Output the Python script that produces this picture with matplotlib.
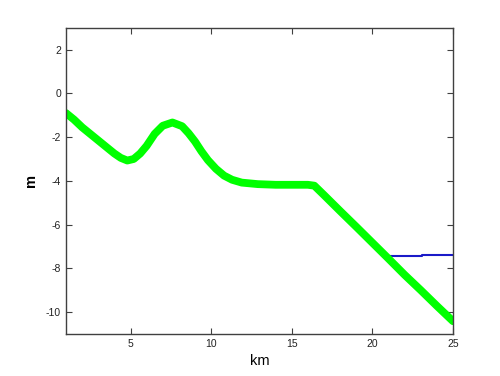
import matplotlib
matplotlib.use('Agg')
import matplotlib.pyplot as plt

plt.rcParams['font.family'] = ['Liberation Sans', 'DejaVu Sans']
plt.rcParams['axes.unicode_minus'] = False

# bed profile (green) and water level (blue)
dist_km = [1, 1.5, 2, 2.5, 3, 3.5, 4, 4.4, 4.8, 5.2, 5.6, 6, 6.5, 7, 7.6, 8.2, 8.6, 9,
           9.4, 9.8, 10.3, 10.8, 11.3, 11.9, 12.9, 14, 15, 16, 16.4, 17, 18, 19, 20,
           21, 22, 23, 24, 25]
bed_m = [-0.9, -1.2, -1.55, -1.85, -2.15, -2.45, -2.75, -2.95, -3.07, -3.0, -2.75,
         -2.4, -1.85, -1.48, -1.33, -1.5, -1.82, -2.2, -2.65, -3.05, -3.45, -3.76,
         -3.95, -4.08, -4.15, -4.18, -4.18, -4.18, -4.22, -4.65, -5.38, -6.1, -6.83,
         -7.56, -8.3, -9.0, -9.72, -10.42]

water_km = [20.8, 23.1, 23.1, 25]
water_m = [-7.42, -7.42, -7.39, -7.39]

fig = plt.figure(figsize=(5, 3.76), dpi=100)
ax = fig.add_axes([0.132, 0.112, 0.774, 0.814])

ax.plot(water_km, water_m, color='#1a1ac8', linewidth=1.5)
ax.plot(dist_km, bed_m, color='#00ff00', linewidth=5.6, solid_capstyle='round')

ax.set_xlim(1, 25)
ax.set_ylim(-11, 3)
ax.set_xticks([5, 10, 15, 20, 25])
ax.set_yticks([-10, -8, -6, -4, -2, 0, 2])
ax.tick_params(direction='in', length=4, width=0.8, color='#404040',
               labelsize=7.5, labelcolor='#222222', top=True, right=True,
               labeltop=False, labelright=False)
for s in ax.spines.values():
    s.set_color('#404040')
    s.set_linewidth(1.0)

ax.set_xlabel('km', fontsize=10.5, labelpad=4)
ax.set_ylabel('m', fontsize=10.5, fontweight='bold', labelpad=6)

fig.savefig('out.png', dpi=100)
